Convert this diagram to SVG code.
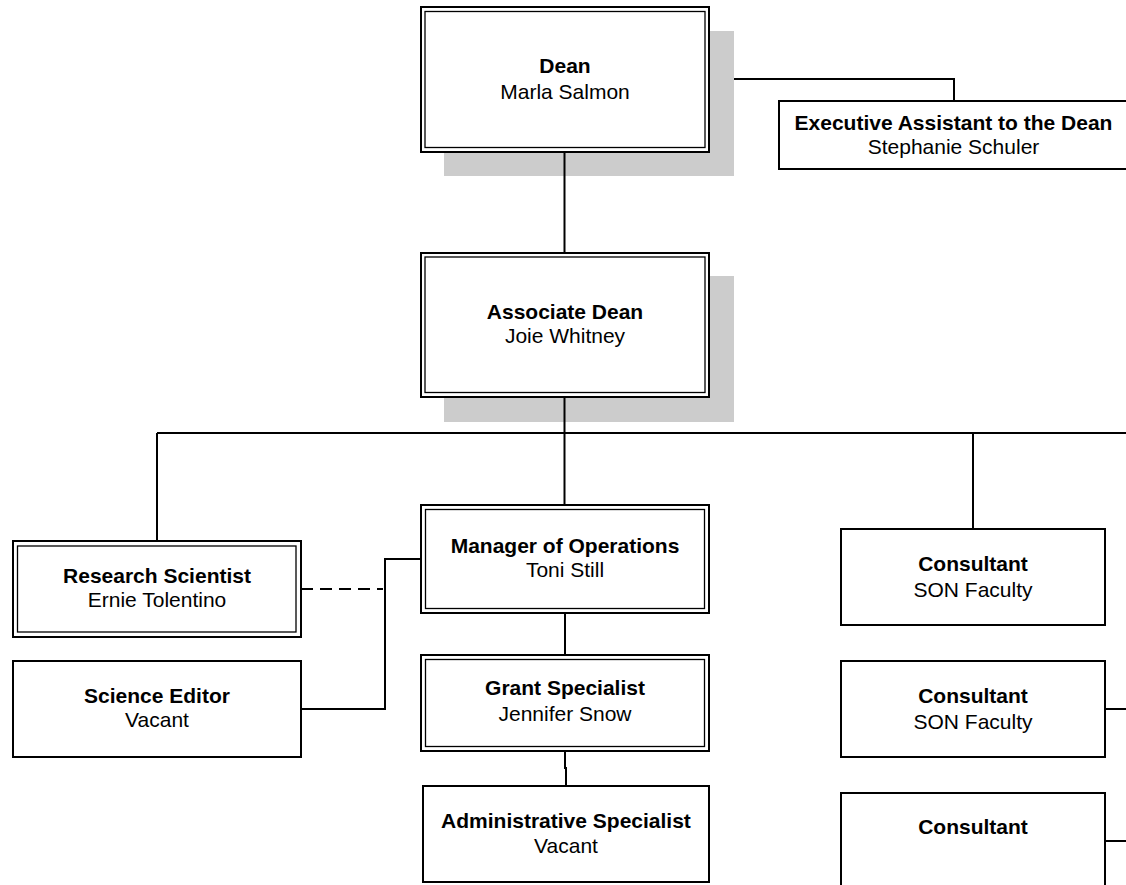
<svg xmlns="http://www.w3.org/2000/svg" width="1126" height="885" viewBox="0 0 1126 885">
<style>
  .bg{fill:#ffffff}
  .shadow{fill:#cccccc;stroke:none}
  .outer{fill:#ffffff;stroke:#000000;stroke-width:2}
  .inner{fill:none;stroke:#000000;stroke-width:1.3}
  .single{fill:#ffffff;stroke:#000000;stroke-width:2}
  .ln{fill:none;stroke:#000000;stroke-width:2}
  .dash{stroke-dasharray:12 7}
  text{font-family:"Liberation Sans",Arial,sans-serif;font-size:21px;fill:#000000;text-anchor:middle}
  .b{font-weight:bold}
</style>
<rect class="bg" x="0" y="0" width="1126" height="885"/>
<g id="dean">
  <rect class="shadow" x="444" y="31" width="290" height="145"/>
  <rect class="outer" x="421" y="7" width="288" height="145"/>
  <rect class="inner" x="425" y="11.5" width="280" height="136"/>
  <text class="b" x="565" y="73">Dean</text>
  <text x="565" y="99">Marla Salmon</text>
</g>
<g id="exec-assistant">
  <rect class="single" x="779" y="101" width="349" height="68"/>
  <text class="b" x="953.5" y="130">Executive Assistant to the Dean</text>
  <text x="953.5" y="154">Stephanie Schuler</text>
</g>
<g id="associate-dean">
  <rect class="shadow" x="444" y="276" width="290" height="146"/>
  <rect class="outer" x="421" y="253" width="288" height="144"/>
  <rect class="inner" x="425" y="257" width="280" height="135.5"/>
  <text class="b" x="565" y="319">Associate Dean</text>
  <text x="565" y="343">Joie Whitney</text>
</g>
<g id="research-scientist">
  <rect class="outer" x="13" y="541" width="288" height="96"/>
  <rect class="inner" x="17.5" y="546" width="278.5" height="86"/>
  <text class="b" x="157" y="583">Research Scientist</text>
  <text x="157" y="607">Ernie Tolentino</text>
</g>
<g id="science-editor">
  <rect class="single" x="13" y="661" width="288" height="96"/>
  <text class="b" x="157" y="703">Science Editor</text>
  <text x="157" y="727">Vacant</text>
</g>
<g id="manager-operations">
  <rect class="outer" x="421" y="505" width="288" height="108"/>
  <rect class="inner" x="425.5" y="509.5" width="279" height="99"/>
  <text class="b" x="565" y="553">Manager of Operations</text>
  <text x="565" y="577">Toni Still</text>
</g>
<g id="grant-specialist">
  <rect class="outer" x="421" y="655" width="288" height="96"/>
  <rect class="inner" x="425.5" y="659.5" width="279" height="87"/>
  <text class="b" x="565" y="695">Grant Specialist</text>
  <text x="565" y="721">Jennifer Snow</text>
</g>
<g id="admin-specialist">
  <rect class="single" x="423" y="786" width="286" height="96"/>
  <text class="b" x="566" y="828">Administrative Specialist</text>
  <text x="566" y="853">Vacant</text>
</g>
<g id="consultant-1">
  <rect class="single" x="841" y="529" width="264" height="96"/>
  <text class="b" x="973" y="571">Consultant</text>
  <text x="973" y="597">SON Faculty</text>
</g>
<g id="consultant-2">
  <rect class="single" x="841" y="661" width="264" height="96"/>
  <text class="b" x="973" y="703">Consultant</text>
  <text x="973" y="729">SON Faculty</text>
</g>
<g id="consultant-3">
  <rect class="single" x="841" y="793" width="264" height="96"/>
  <text class="b" x="973" y="834">Consultant</text>
</g>
<g id="connectors">
  <polyline class="ln" points="734,79 954,79 954,101"/>
  <line class="ln" x1="564.5" y1="152" x2="564.5" y2="253"/>
  <line class="ln" x1="564.5" y1="397" x2="564.5" y2="505"/>
  <line class="ln" x1="157" y1="433" x2="1126" y2="433"/>
  <line class="ln" x1="157" y1="433" x2="157" y2="541"/>
  <line class="ln" x1="973" y1="433" x2="973" y2="529"/>
  <line class="ln" x1="565" y1="613" x2="565" y2="655"/>
  <polyline class="ln" points="565,751 565,768 566,768 566,786"/>
  <polyline class="ln" points="421,559 385,559 385,709 301,709"/>
  <line class="ln dash" x1="301" y1="589" x2="383" y2="589"/>
  <line class="ln" x1="1105" y1="709" x2="1126" y2="709"/>
  <line class="ln" x1="1105" y1="841" x2="1126" y2="841"/>
</g>
</svg>
